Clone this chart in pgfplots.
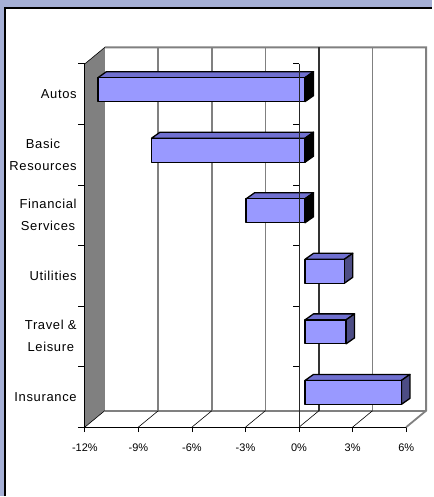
\documentclass[border=0pt]{standalone}
\usepackage{pgfplots}
\pgfplotsset{compat=1.18}
\usepackage{fontspec}
\setmainfont{Liberation Sans}
\newfontfamily\catfont[LetterSpace=5]{Liberation Sans}
\definecolor{framecol}{HTML}{A6B0D6}
\definecolor{barfront}{HTML}{9999FF}
\definecolor{bartop}{HTML}{7070D0}
\definecolor{barside}{HTML}{4D4D85}
\definecolor{wallgray}{HTML}{808080}
\begin{document}
\begin{tikzpicture}
\fill[framecol] (-85pt,-69pt) rectangle (348pt,428pt);
\fill[white] (-81pt,-69pt) rectangle (348pt,421pt);
\draw[black, line width=2pt] (-80pt,-69pt) -- (-80pt,420pt) -- (348pt,420pt);
\begin{axis}[at={(0,0)}, anchor=south west,
  x=17.889pt, y=60.667pt,
  xmin=-12, xmax=6, ymin=0, ymax=6,
  clip=false,
  axis line style={draw=none},
  tick align=outside, major tick length=5pt,
  xtick={-12,-9,-6,-3,0,3,6},
  xticklabels={-12\%,-9\%,-6\%,-3\%,0\%,3\%,6\%},
  xtick pos=left,
  x tick style={black, line width=0.8pt},
  xticklabel style={font=\fontsize{11}{13}\selectfont, yshift=-8pt},
  ytick={0.5,1.5,2.5,3.5,4.5,5.5},
  yticklabels={Insurance,{Travel \&\\Leisure},Utilities,{Financial\\Services},{Basic\\Resources},Autos},
  ytick pos=left,
  y tick style={draw=none},
  yticklabel style={font=\catfont\fontsize{13}{22}\selectfont, align=center, anchor=east, inner sep=0pt, xshift=-3pt},
]
% back wall border
\draw[wallgray, line width=1.8pt] ([shift={(20pt,16.5pt)}]axis cs:-12,6) -- ([shift={(20pt,16.5pt)}]axis cs:6,6) -- ([shift={(20pt,16.5pt)}]axis cs:6,0) -- (axis cs:6,0);
\draw[wallgray, line width=1.8pt] ([shift={(20pt,16.5pt)}]axis cs:-12,0) -- ([shift={(20pt,16.5pt)}]axis cs:6,0);
% back gridlines
\pgfplotsinvokeforeach{-9,-6,-3,3}{
  \draw[wallgray, line width=1.8pt] ([shift={(20pt,16.5pt)}]axis cs:#1,0) -- ([shift={(20pt,16.5pt)}]axis cs:#1,6);
}
\draw[black!80, line width=1.8pt] ([shift={(20pt,16.5pt)}]axis cs:0,0) -- ([shift={(20pt,16.5pt)}]axis cs:0,6);
% floor diagonals
\pgfplotsinvokeforeach{-9,-6,-3,0,3}{
  \draw[black, line width=0.6pt] (axis cs:#1,0) -- ([shift={(20pt,16.5pt)}]axis cs:#1,0);
}
% left wall
\fill[wallgray] (axis cs:-12,0) -- ([shift={(20pt,16.5pt)}]axis cs:-12,0) -- ([shift={(20pt,16.5pt)}]axis cs:-12,6) -- (axis cs:-12,6) -- cycle;
\draw[black, line width=0.6pt] (axis cs:-12,6) -- ([shift={(20pt,16.5pt)}]axis cs:-12,6);
\draw[black, line width=0.6pt] (axis cs:-12,0) -- ([shift={(20pt,16.5pt)}]axis cs:-12,0);
% bars
\foreach \v/\c/\sc in {-11.6/5.5/black, -8.6/4.5/black, -3.3/3.5/black, 2.2/2.5/barside, 2.3/1.5/barside, 5.4/0.5/barside}{
  \pgfmathsetmacro\xl{min(\v,0)+0.3354}
  \pgfmathsetmacro\xr{max(\v,0)+0.3354}
  \pgfmathsetmacro\yb{\c+0.0742-0.1978}
  \pgfmathsetmacro\yt{\c+0.0742+0.1978}
  \pgfmathsetmacro\xlb{\xl+0.4752}
  \pgfmathsetmacro\xrb{\xr+0.4752}
  \pgfmathsetmacro\ybb{\yb+0.0989}
  \pgfmathsetmacro\ytb{\yt+0.0989}
  \edef\doit{%
    \noexpand\addplot[fill=bartop, draw=black, line width=1.3pt, line join=round] coordinates {(\xl,\yt) (\xr,\yt) (\xrb,\ytb) (\xlb,\ytb)} -- cycle;
    \noexpand\addplot[fill=\sc, draw=black, line width=1.3pt, line join=round] coordinates {(\xr,\yb) (\xrb,\ybb) (\xrb,\ytb) (\xr,\yt)} -- cycle;
    \noexpand\addplot[fill=barfront, draw=black, line width=1.3pt, line join=round] coordinates {(\xl,\yb) (\xr,\yb) (\xr,\yt) (\xl,\yt)} -- cycle;
  }
  \doit
}
% front axes
\draw[black, line width=1pt] ([xshift=-7pt]axis cs:-12,0) -- (axis cs:6,0);
\draw[black, line width=1pt] (axis cs:-12,0) -- (axis cs:-12,6);
\draw[black!85, line width=1pt] (axis cs:0,0) -- (axis cs:0,6);
\pgfplotsinvokeforeach{0,...,6}{
  \draw[black, line width=0.8pt] (axis cs:-12,#1) -- ([xshift=-7pt]axis cs:-12,#1);
  \draw[black, line width=0.8pt] (axis cs:0,#1) -- ([xshift=-6pt]axis cs:0,#1);
}
\end{axis}
\end{tikzpicture}
\end{document}
